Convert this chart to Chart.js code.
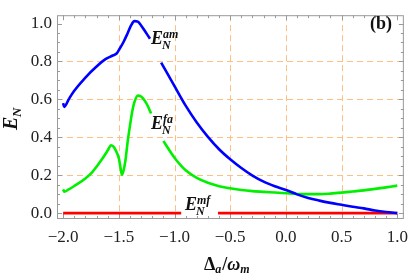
<!DOCTYPE html>
<html>
<head>
<meta charset="utf-8">
<script src="https://cdn.jsdelivr.net/npm/chart.js@4.4.1/dist/chart.umd.min.js"></script>
<style>
html,body{margin:0;padding:0;background:#fff;}
#wrap{position:relative;width:416px;height:275px;}
</style>
</head>
<body>
<div id="wrap"><canvas id="c" width="416" height="275"></canvas></div>
<script>
// ---- data ----
const amX = [-2.0,-1.99,-1.95,-1.9,-1.8,-1.7,-1.62,-1.56,-1.52,-1.5,-1.46,-1.42,-1.39,-1.36,-1.33,-1.30,-1.26,-1.22,-1.17,-1.12,-1.0,-0.9,-0.8,-0.7,-0.6,-0.5,-0.4,-0.3,-0.2,-0.1,0.0,0.1,0.2,0.3,0.4,0.5,0.6,0.7,0.8,0.9,1.0];
const amY = [0.58,0.56,0.60,0.645,0.715,0.773,0.812,0.83,0.842,0.86,0.90,0.95,0.99,1.013,1.01,0.99,0.955,0.92,null,0.794,0.67,0.567,0.478,0.402,0.337,0.284,0.238,0.198,0.166,0.142,0.122,0.099,0.08,0.066,0.054,0.044,0.034,0.025,0.014,0.006,0.0];

const faX = [-2.0,-1.99,-1.95,-1.9,-1.8,-1.74,-1.7,-1.65,-1.6,-1.57,-1.55,-1.53,-1.5,-1.485,-1.472,-1.455,-1.44,-1.42,-1.40,-1.38,-1.36,-1.33,-1.30,-1.27,-1.24,-1.21,-1.15,-1.10,-1.0,-0.9,-0.8,-0.7,-0.6,-0.5,-0.4,-0.3,-0.2,-0.1,0.0,0.1,0.2,0.3,0.4,0.5,0.6,0.7,0.8,0.9,1.0];
const faY = [0.125,0.113,0.125,0.143,0.183,0.215,0.245,0.285,0.33,0.358,0.352,0.334,0.29,0.24,0.202,0.23,0.28,0.38,0.46,0.535,0.585,0.62,0.615,0.595,0.565,0.525,null,0.38,0.292,0.226,0.186,0.16,0.142,0.131,0.122,0.116,0.112,0.109,0.105,0.101,0.100,0.100,0.103,0.108,0.114,0.12,0.128,0.136,0.145];

const mfX = [-2.0,-0.94,-0.8,-0.61,1.0];
const mfY = [0.0,0.0,null,0.0,0.0];

const xTickValues = [-2.0,-1.5,-1.0,-0.5,0.0,0.5,1.0];
const xTickLabels = ['\u22122.0','\u22121.5','\u22121.0','\u22120.5','0.0','0.5','1.0'];
const yTickValues = [0.0,0.2,0.4,0.6,0.8,1.0];
const yTickLabels = ['0.0','0.2','0.4','0.6','0.8','1.0'];
const xGrid = [-1.5,-1.0,-0.5,0.0,0.5];
const yGrid = [0.2,0.4,0.6,0.8];
const xMinorStep = 0.1, yMinorStep = 0.05;

const seriesNames = ['am','fa','mf'];

function pts(xs, ys){ return xs.map((x,i)=>({x:x, y:ys[i]})); }

const SERIF = "Liberation Serif";

const decor = {
  id:'decor',
  beforeDatasetsDraw(chart){
    const {ctx, chartArea:a, scales:{x,y}} = chart;
    ctx.save();
    ctx.strokeStyle = 'rgb(255,190,130)';
    ctx.lineWidth = 1;
    ctx.setLineDash([6,4]);
    xGrid.forEach(v=>{
      const px = Math.round(x.getPixelForValue(v))+0.5;
      ctx.beginPath(); ctx.moveTo(px,a.top); ctx.lineTo(px,a.bottom); ctx.stroke();
    });
    yGrid.forEach(v=>{
      const py = Math.round(y.getPixelForValue(v))+0.5;
      ctx.beginPath(); ctx.moveTo(a.left,py); ctx.lineTo(a.right,py); ctx.stroke();
    });
    ctx.setLineDash([]);
    ctx.strokeStyle = '#9a9a9a';
    ctx.lineWidth = 1;
    ctx.strokeRect(a.left+0.5, a.top+0.5, a.right-a.left-1, a.bottom-a.top-1);
    ctx.beginPath();
    for(let i=-20;i<=10;i++){
      const v=i*xMinorStep;
      const px = Math.round(x.getPixelForValue(v))+0.5;
      const len = (i%5===0)?5:3;
      ctx.moveTo(px,a.bottom); ctx.lineTo(px,a.bottom-len);
      ctx.moveTo(px,a.top); ctx.lineTo(px,a.top+len);
    }
    for(let i=0;i<=20;i++){
      const v=i*yMinorStep;
      const py = Math.round(y.getPixelForValue(v))+0.5;
      const len = (i%4===0)?5:3;
      ctx.moveTo(a.left,py); ctx.lineTo(a.left+len,py);
      ctx.moveTo(a.right,py); ctx.lineTo(a.right-len,py);
    }
    ctx.stroke();
    ctx.restore();
  },
  afterDatasetsDraw(chart){
    const {ctx} = chart;
    ctx.save();
    ctx.fillStyle = '#111';
    ctx.textBaseline = 'alphabetic';
    ctx.textAlign = 'left';
    function ELabel(xp, yp, sup){
      ctx.font = "bold italic 18px '"+SERIF+"'";
      ctx.fillText('E', xp, yp);
      ctx.font = "bold italic 12px '"+SERIF+"'";
      ctx.fillText(sup, xp+12, yp-6);
      ctx.fillText('N', xp+11, yp+5);
    }
    ELabel(151, 44, seriesNames[0]);
    ELabel(151, 129, seriesNames[1]);
    ELabel(185, 210, seriesNames[2]);
    ctx.font = "bold 18px '"+SERIF+"'";
    ctx.fillText('(b)', 370, 29);
    ctx.save();
    ctx.translate(17, 130);
    ctx.rotate(-Math.PI/2);
    ctx.font = "bold italic 20px '"+SERIF+"'";
    ctx.fillText('E', 0, 0);
    ctx.font = "bold italic 13px '"+SERIF+"'";
    ctx.fillText('N', 13, 4);
    ctx.restore();
    let xp = 204, yb = 270;
    ctx.font = "bold 18px '"+SERIF+"'";
    ctx.fillText('\u0394', xp, yb); xp += ctx.measureText('\u0394').width;
    ctx.font = "bold italic 12px '"+SERIF+"'";
    ctx.fillText('a', xp, yb+3); xp += ctx.measureText('a').width+1;
    ctx.font = "bold 18px '"+SERIF+"'";
    ctx.fillText('/', xp, yb); xp += ctx.measureText('/').width;
    ctx.font = "bold italic 18px '"+SERIF+"'";
    ctx.fillText('\u03C9', xp, yb); xp += ctx.measureText('\u03C9').width;
    ctx.font = "bold italic 12px '"+SERIF+"'";
    ctx.fillText('m', xp, yb+3);
    ctx.restore();
  }
};

function draw(){
  new Chart(document.getElementById('c'), {
    type:'line',
    data:{
      datasets:[
        {label:'E_N^am', data:pts(amX,amY), borderColor:'rgb(0,0,255)', borderWidth:2.6, pointRadius:0, cubicInterpolationMode:'monotone', spanGaps:false},
        {label:'E_N^fa', data:pts(faX,faY), borderColor:'rgb(0,240,0)', borderWidth:2.6, pointRadius:0, cubicInterpolationMode:'monotone', spanGaps:false},
        {label:'E_N^mf', data:pts(mfX,mfY), borderColor:'rgb(255,0,0)', borderWidth:2.8, pointRadius:0, spanGaps:false}
      ]
    },
    options:{
      responsive:false,
      animation:false,
      devicePixelRatio:1,
      layout:{padding:{top:1,right:5,left:0,bottom:0}},
      plugins:{legend:{display:false}, tooltip:{enabled:false}},
      scales:{
        x:{
          type:'linear', min:-2.055, max:1.059,
          grid:{display:false, drawTicks:false},
          border:{display:false},
          afterBuildTicks:(s)=>{ s.ticks = xTickValues.map(v=>({value:v})); },
          afterFit:(s)=>{ s.height = 56; },
          ticks:{
            autoSkip:false, maxRotation:0, padding:8, color:'#222',
            font:{family:"'"+SERIF+"'", size:17},
            callback:(v)=>{ const i = xTickValues.findIndex(t=>Math.abs(t-v)<1e-6); return i>=0?xTickLabels[i]:''; }
          }
        },
        y:{
          type:'linear', min:-0.031, max:1.044,
          grid:{display:false, drawTicks:false},
          border:{display:false},
          afterBuildTicks:(s)=>{ s.ticks = yTickValues.map(v=>({value:v})); },
          afterFit:(s)=>{ s.width = 57; },
          ticks:{
            autoSkip:false, padding:5, color:'#222',
            font:{family:"'"+SERIF+"'", size:17},
            callback:(v)=>{ const i = yTickValues.findIndex(t=>Math.abs(t-v)<1e-6); return i>=0?yTickLabels[i]:''; }
          }
        }
      }
    },
    plugins:[decor]
  });
}
const fl = [
  "17px 'Liberation Serif'", "bold 18px 'Liberation Serif'",
  "bold italic 18px 'Liberation Serif'", "italic 12px 'Liberation Serif'"
].map(f=>document.fonts.load(f).catch(()=>null));
Promise.all(fl).then(draw, draw);
</script>
</body>
</html>
